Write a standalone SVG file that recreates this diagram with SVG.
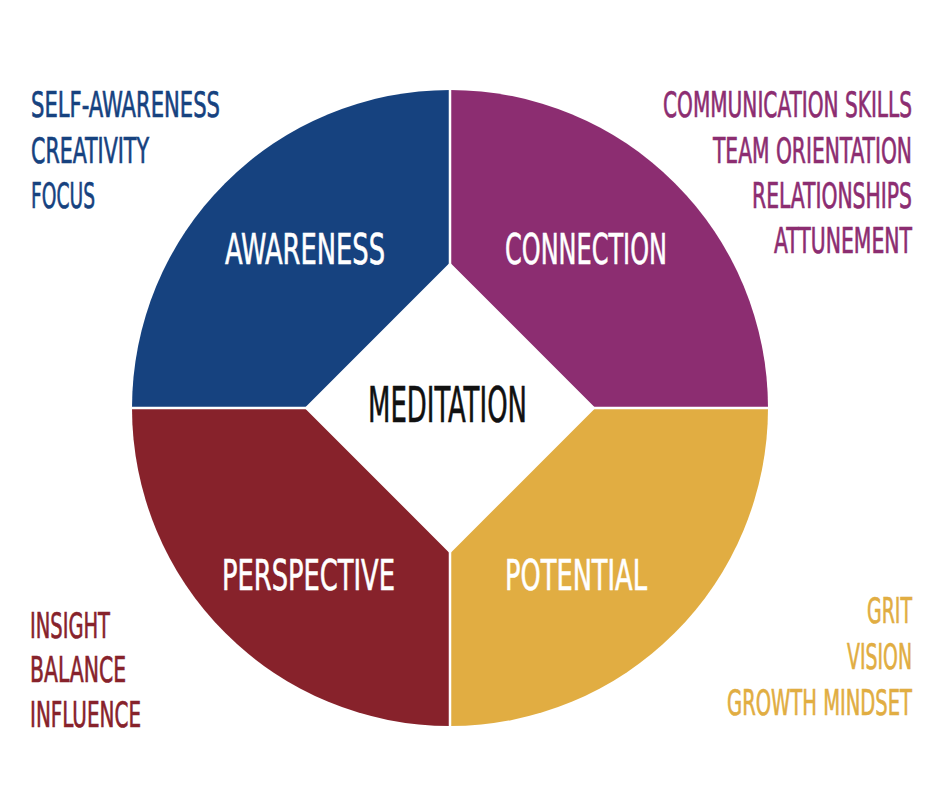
<svg xmlns="http://www.w3.org/2000/svg" width="940" height="788" viewBox="0 0 940 788">
<style>
text{font-family:"Liberation Sans Narrow","DejaVu Sans Condensed","Liberation Sans",sans-serif;}
.seg{font-size:43px;fill:#ffffff;stroke:#ffffff;stroke-width:0.6;}
.side{font-size:24px;stroke-width:0.45;}
.r{text-anchor:end;}
.blue{fill:#16427f;stroke:#16427f;}
.purple{fill:#8c2d71;stroke:#8c2d71;}
.red{fill:#87222b;stroke:#87222b;}
.gold{fill:#e1ad42;stroke:#e1ad42;}
path.blue,path.purple,path.red,path.gold{stroke:none;}
.div{stroke:#ffffff;stroke-width:2.5;}
</style>
<rect width="940" height="788" fill="#ffffff"/>
<g id="awareness">
<path class="blue" d="M450,408 L132,408 A318,318 0 0 1 450,90 Z"/>
<text class="seg" x="225" y="264" textLength="160" lengthAdjust="spacingAndGlyphs">AWARENESS</text>
</g>
<g id="connection">
<path class="purple" d="M450,408 L450,90 A318,318 0 0 1 768,408 Z"/>
<text class="seg" x="505" y="264" textLength="162" lengthAdjust="spacingAndGlyphs">CONNECTION</text>
</g>
<g id="potential">
<path class="gold" d="M450,408 L768,408 A318,318 0 0 1 450,726 Z"/>
<text class="seg" x="505" y="590" textLength="142" lengthAdjust="spacingAndGlyphs">POTENTIAL</text>
</g>
<g id="perspective">
<path class="red" d="M450,408 L450,726 A318,318 0 0 1 132,408 Z"/>
<text class="seg" x="222" y="590" textLength="173" lengthAdjust="spacingAndGlyphs">PERSPECTIVE</text>
</g>
<g id="connectors">
<line class="div" x1="450" y1="88" x2="450" y2="728"/>
<line class="div" x1="130" y1="408" x2="770" y2="408"/>
</g>
<g id="meditation">
<polygon points="450,264 594,408 450,552 306,408" fill="#ffffff" stroke="#ffffff" stroke-width="2"/>
<text x="368" y="422" font-size="49" fill="#111111" stroke="#111111" stroke-width="0.6" textLength="159" lengthAdjust="spacingAndGlyphs">MEDITATION</text>
</g>
<g id="awareness-list">
<text class="side blue" transform="translate(31,117) scale(1,1.45)" textLength="189" lengthAdjust="spacingAndGlyphs">SELF-AWARENESS</text>
<text class="side blue" transform="translate(31,163) scale(1,1.45)" textLength="118" lengthAdjust="spacingAndGlyphs">CREATIVITY</text>
<text class="side blue" transform="translate(31,208) scale(1,1.45)" textLength="64" lengthAdjust="spacingAndGlyphs">FOCUS</text>
</g>
<g id="connection-list">
<text class="side purple r" transform="translate(912,117) scale(1,1.45)" textLength="249" lengthAdjust="spacingAndGlyphs">COMMUNICATION SKILLS</text>
<text class="side purple r" transform="translate(912,163) scale(1,1.45)" textLength="199" lengthAdjust="spacingAndGlyphs">TEAM ORIENTATION</text>
<text class="side purple r" transform="translate(912,208) scale(1,1.45)" textLength="160" lengthAdjust="spacingAndGlyphs">RELATIONSHIPS</text>
<text class="side purple r" transform="translate(912,253) scale(1,1.45)" textLength="138" lengthAdjust="spacingAndGlyphs">ATTUNEMENT</text>
</g>
<g id="perspective-list">
<text class="side red" transform="translate(30,638) scale(1,1.45)" textLength="80" lengthAdjust="spacingAndGlyphs">INSIGHT</text>
<text class="side red" transform="translate(30,682) scale(1,1.45)" textLength="96" lengthAdjust="spacingAndGlyphs">BALANCE</text>
<text class="side red" transform="translate(30,727) scale(1,1.45)" textLength="111" lengthAdjust="spacingAndGlyphs">INFLUENCE</text>
</g>
<g id="potential-list">
<text class="side gold r" transform="translate(912,623) scale(1,1.45)" textLength="45" lengthAdjust="spacingAndGlyphs">GRIT</text>
<text class="side gold r" transform="translate(912,669) scale(1,1.45)" textLength="65" lengthAdjust="spacingAndGlyphs">VISION</text>
<text class="side gold r" transform="translate(912,715) scale(1,1.45)" textLength="185" lengthAdjust="spacingAndGlyphs">GROWTH MINDSET</text>
</g>
</svg>
